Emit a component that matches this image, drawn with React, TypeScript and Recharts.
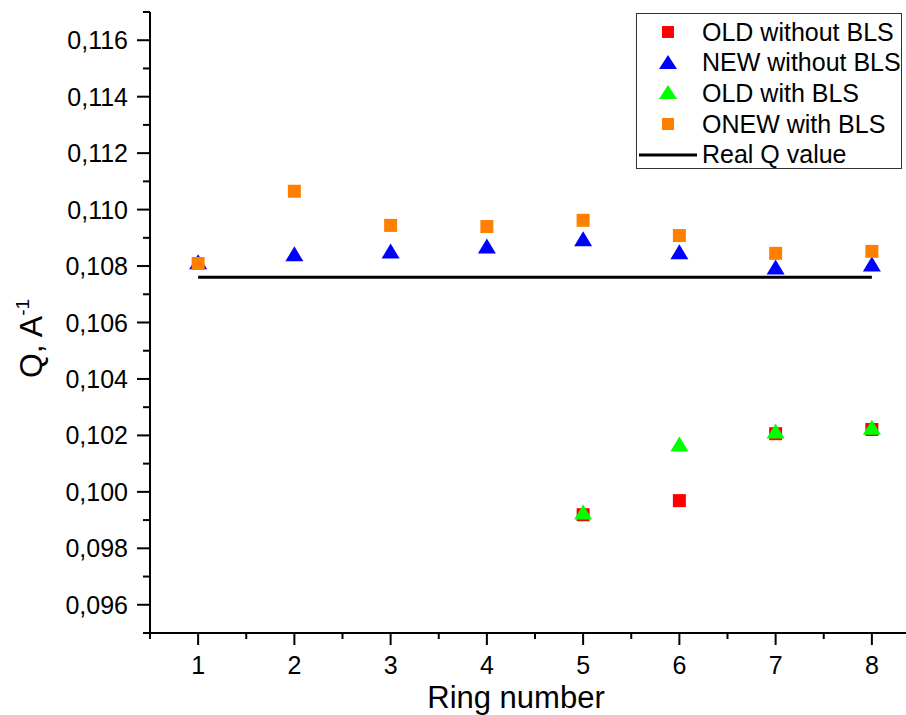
import { Legend, Scatter, ScatterChart, XAxis, YAxis } from "recharts"

const rings = [1, 2, 3, 4, 5, 6, 7, 8]
const oldWithoutBLS = [null, null, null, null, 0.09919, 0.09969, 0.10206, 0.10221]
const newWithoutBLS = [0.1081, 0.10838, 0.10848, 0.10866, 0.10891, 0.10845, 0.10791, 0.10802]
const oldWithBLS = [null, null, null, null, 0.09923, 0.10164, 0.1021, 0.10224]
const onewWithBLS = [0.10809, 0.11065, 0.10944, 0.1094, 0.10962, 0.10908, 0.10845, 0.10852]
const realQ = 0.1076
const realQRings = [1, 8]

const xTicks = [0.5, 1, 1.5, 2, 2.5, 3, 3.5, 4, 4.5, 5, 5.5, 6, 6.5, 7, 7.5, 8, 8.5]
const yTicks = [
  0.095, 0.096, 0.097, 0.098, 0.099, 0.1, 0.101, 0.102, 0.103, 0.104, 0.105, 0.106,
  0.107, 0.108, 0.109, 0.11, 0.111, 0.112, 0.113, 0.114, 0.115, 0.116, 0.117,
]

const FONT = "'Liberation Sans', Arial, sans-serif"

const toPoints = (vals: (number | null)[]) =>
  rings.map((x, i) => ({ x, y: vals[i] })).filter((p) => p.y !== null)

const realQData = realQRings.map((x) => ({ x, y: realQ }))

const series = [
  { name: "OLD without BLS", color: "#ff0000", shape: "square", data: toPoints(oldWithoutBLS) },
  { name: "NEW without BLS", color: "#0000ff", shape: "triangle", data: toPoints(newWithoutBLS) },
  { name: "OLD with BLS", color: "#00ff00", shape: "triangle", data: toPoints(oldWithBLS) },
  { name: "ONEW with BLS", color: "#ff8000", shape: "square", data: toPoints(onewWithBLS) },
]

const isMajorX = (v: number) => Math.abs(v - Math.round(v)) < 1e-6
const isMajorY = (v: number) => Math.round(v * 1000) % 2 === 0

function makeShape(kind: string, color: string) {
  return (props: any) => {
    const { cx, cy } = props
    if (cx == null || cy == null) return <g />
    if (kind === "square") {
      return <rect x={cx - 6.5} y={cy - 6.5} width={13} height={13} fill={color} />
    }
    return <polygon points={`${cx},${cy - 9} ${cx - 9},${cy + 6} ${cx + 9},${cy + 6}`} fill={color} />
  }
}

function BottomTick(props: any) {
  const { x, y, payload } = props
  const major = isMajorX(payload.value)
  return (
    <g>
      <line x1={x} x2={x} y1={y} y2={y + (major ? 12 : 6)} stroke="#000" strokeWidth={2} />
      {major && (
        <text x={x} y={y + 41} textAnchor="middle" fontSize={25} fontFamily={FONT} fill="#000">
          {payload.value}
        </text>
      )}
    </g>
  )
}

function TopTick(props: any) {
  const { x, y, payload } = props
  const major = isMajorX(payload.value)
  return <line x1={x} x2={x} y1={y} y2={y + (major ? 11 : 5)} stroke="#000" strokeWidth={2} />
}

function LeftTick(props: any) {
  const { x, y, payload } = props
  const major = isMajorY(payload.value)
  return (
    <g>
      <line x1={x} x2={x - (major ? 13 : 7)} y1={y} y2={y} stroke="#000" strokeWidth={2} />
      {major && (
        <text x={x - 22} y={y + 9} textAnchor="end" fontSize={25} fontFamily={FONT} fill="#000">
          {payload.value.toFixed(3).replace(".", ",")}
        </text>
      )}
    </g>
  )
}

function YTitle(props: any) {
  const vb = props.viewBox
  const x = vb.x + 42
  const y = vb.y + vb.height / 2 + 16
  return (
    <text x={x} y={y} transform={`rotate(-90, ${x}, ${y})`} textAnchor="middle" fontSize={32} fontFamily={FONT} fill="#000">
      Q, A
      <tspan dy={-13} fontSize={19}>-1</tspan>
    </text>
  )
}

function XTitle(props: any) {
  const vb = props.viewBox
  return (
    <text x={vb.x + 366} y={vb.y + 75} textAnchor="middle" fontSize={31} fontFamily={FONT} fill="#000">
      Ring number
    </text>
  )
}

function LegendBox() {
  return (
    <div
      style={{
        width: 266,
        height: 156,
        border: "1px solid #333",
        background: "#fff",
        fontFamily: FONT,
        fontSize: 25,
        boxSizing: "border-box",
      }}
    >
      {series.map((s, i) => (
        <div key={s.name} style={{ position: "absolute", left: 0, top: 4 + i * 30.7, height: 30, display: "flex", alignItems: "center" }}>
          <svg width={66} height={30}>
            {s.shape === "square" ? (
              <rect x={26} y={9} width={12} height={12} fill={s.color} />
            ) : (
              <polygon points="32,7 23,21 41,21" fill={s.color} />
            )}
          </svg>
          <span>{s.name}</span>
        </div>
      ))}
      <div style={{ position: "absolute", left: 0, top: 4 + 4 * 30.7, height: 30, display: "flex", alignItems: "center" }}>
        <svg width={66} height={30}>
          <line x1={3} x2={61} y1={15} y2={15} stroke="#000" strokeWidth={3} />
        </svg>
        <span>Real Q value</span>
      </div>
    </div>
  )
}

export default function App() {
  return (
    <div style={{ position: "absolute", left: 0, top: 0, width: 906, height: 715, overflow: "hidden", background: "#fff" }}>
      <ScatterChart width={940} height={715} margin={{ top: 12, right: 20, left: 0, bottom: 0 }}>
        <XAxis
          type="number"
          dataKey="x"
          domain={[0.5, 8.5]}
          ticks={xTicks}
          interval={0}
          allowDataOverflow
          height={82}
          tickSize={0}
          tickMargin={0}
          tickLine={false}
          tick={<BottomTick />}
          axisLine={{ stroke: "#000", strokeWidth: 2 }}
          label={{ content: XTitle }}
        />
        <XAxis
          xAxisId="top"
          orientation="top"
          type="number"
          dataKey="x"
          domain={[0.5, 8.5]}
          ticks={xTicks}
          interval={0}
          allowDataOverflow
          height={0}
          tickSize={0}
          tickMargin={0}
          tickLine={false}
          tick={<TopTick />}
          axisLine={{ stroke: "#000", strokeWidth: 2 }}
        />
        <YAxis
          type="number"
          dataKey="y"
          domain={[0.095, 0.117]}
          ticks={yTicks}
          interval={0}
          allowDataOverflow
          width={150}
          tickSize={0}
          tickMargin={0}
          tickLine={false}
          tick={<LeftTick />}
          axisLine={{ stroke: "#000", strokeWidth: 2 }}
          label={{ content: YTitle }}
        />
        <Scatter
          name="Real Q value"
          data={realQData}
          line={{ stroke: "#000", strokeWidth: 3 }}
          shape={() => <g />}
          isAnimationActive={false}
          legendType="none"
        />
        {series.map((s) => (
          <Scatter
            key={s.name}
            name={s.name}
            data={s.data}
            fill={s.color}
            shape={makeShape(s.shape, s.color)}
            isAnimationActive={false}
          />
        ))}
        <Legend
          layout="vertical"
          align="center"
          verticalAlign="middle"
          content={<LegendBox />}
          wrapperStyle={{ position: "absolute", left: 636, top: 13, width: 266, height: 156 }}
        />
      </ScatterChart>
    </div>
  )
}
